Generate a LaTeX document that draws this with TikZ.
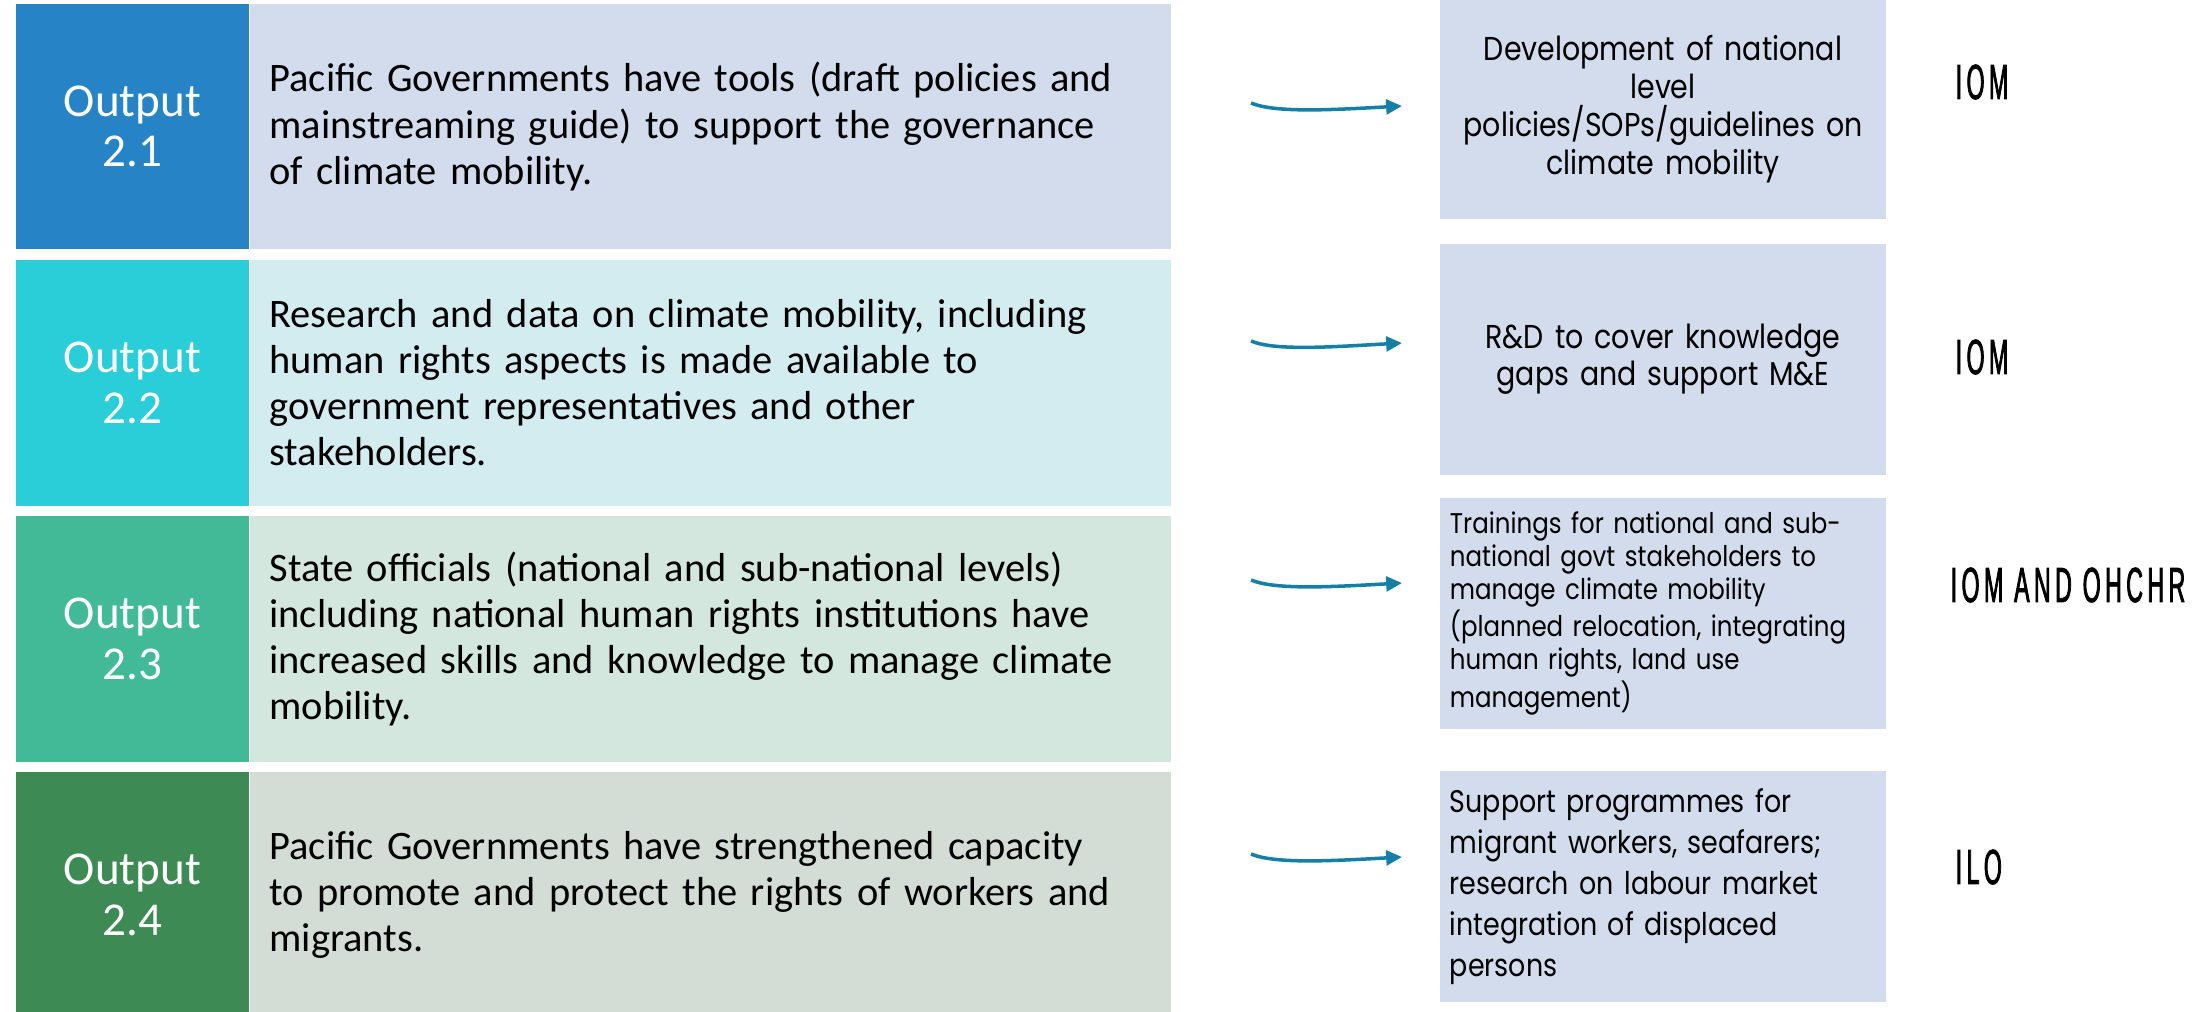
\documentclass[tikz,border=0pt]{standalone}
\usepackage{fontspec}
\setmainfont{Carlito}
\newfontfamily\actfont[FakeStretch=0.86]{Poppins}
\newfontfamily\orgfont[FakeStretch=0.47,LetterSpace=9,FakeBold=1.5]{Liberation Sans}
\usetikzlibrary{arrows.meta}

\definecolor{tabA}{HTML}{2684C6}
\definecolor{tabB}{HTML}{29CED8}
\definecolor{tabC}{HTML}{42BA97}
\definecolor{tabD}{HTML}{3D8A54}
\definecolor{panA}{HTML}{D2DCEC}
\definecolor{panB}{HTML}{D3ECF0}
\definecolor{panC}{HTML}{D3E7DF}
\definecolor{panD}{HTML}{D3DDD6}
\definecolor{flowc}{HTML}{157FA8}

\hyphenpenalty=10000
\begin{document}
\begin{tikzpicture}[x=0.01cm,y=-0.01cm,
  tab/.style={fill=#1, inner sep=0, minimum width=2.33cm, minimum height=2.45cm,
    text=white, align=center, font=\fontsize{13.4}{14.4}\selectfont},
  panel/.style={fill=#1, anchor=west, inner xsep=0.19cm, inner ysep=0,
    text width=8.82cm, minimum height=2.45cm, align=left,
    font=\fontsize{11.5}{13.1}\selectfont},
  act/.style={fill=panA, inner xsep=0.1cm, inner ysep=0, text width=4.26cm,
    minimum height=2.31cm},
  org/.style={anchor=west, inner sep=0, font=\orgfont\fontsize{14}{15}\selectfont},
  flow/.style={draw=flowc, line width=1pt, -{Triangle[length=4.5pt,width=4.2pt]}}]
  \useasboundingbox (0,0) rectangle (2212,1011);

  % outputs
  \node[tab=tabA] (t1) at (132.5,126.5) {Output\\2.1};
  \node[panel=panA] (p1) at (t1.east) {Pacific Governments have tools (draft policies and\\
    mainstreaming guide) to support the governance\\of climate mobility.};
  \node[tab=tabB] (t2) at (132.5,383) {Output\\2.2};
  \node[panel=panB] (p2) at (t2.east) {Research and data on climate mobility, including\\
    human rights aspects is made available to\\government representatives and other\\stakeholders.};
  \node[tab=tabC] (t3) at (132.5,639) {Output\\2.3};
  \node[panel=panC] (p3) at (t3.east) {State officials (national and sub-national levels)\\
    including national human rights institutions have\\increased skills and knowledge to manage climate\\mobility.};
  \node[tab=tabD] (t4) at (132.5,895) {Output\\2.4};
  \node[panel=panD] (p4) at (t4.east) {Pacific Governments have strengthened capacity\\
    to promote and protect the rights of workers and\\migrants.};

  % activities
  \node[act, minimum height=2.19cm, align=center,
    font=\actfont\fontsize{9.4}{10.8}\selectfont] (a1) at (1663,109.5)
    {Development of national\\level\\policies/SOPs/guidelines on\\climate mobility};
  \node[act, align=center, font=\actfont\fontsize{9.4}{10.5}\selectfont] (a2) at (1663,359.5)
    {R\&D to cover knowledge\\gaps and support M\&E};
  \node[act, align=left, font=\actfont\fontsize{8.1}{9.25}\selectfont] (a3) at (1663,613.5)
    {Trainings for national and sub-\\national govt stakeholders to\\manage climate mobility\\
    (planned relocation, integrating\\human rights, land use\\management)};
  \node[act, align=left, font=\actfont\fontsize{8.9}{11.7}\selectfont] (a4) at (1663,886.5)
    {Support programmes for\\migrant workers, seafarers;\\research on labour market\\
    integration of displaced\\persons};

  % agencies
  \node[org] (o1) at (1955,82) {IOM};
  \node[org] (o2) at (1955,357) {IOM};
  \node[org] (o3) at (1950,585) {IOM AND OHCHR};
  \node[org] (o4) at (1955,867) {ILO};

  % arrows
  \coordinate (s1) at (1251,103);  \coordinate (e1) at (1402,106);
  \coordinate (s2) at (1251,341);  \coordinate (e2) at (1402,343);
  \coordinate (s3) at (1251,580);  \coordinate (e3) at (1402,583);
  \coordinate (s4) at (1251,854);  \coordinate (e4) at (1402,857);
  \draw[flow] (s1) .. controls +(24,10) and +(-72,4) .. (e1);
  \draw[flow] (s2) .. controls +(24,10) and +(-72,4) .. (e2);
  \draw[flow] (s3) .. controls +(24,10) and +(-72,4) .. (e3);
  \draw[flow] (s4) .. controls +(24,10) and +(-72,4) .. (e4);
\end{tikzpicture}
\end{document}
